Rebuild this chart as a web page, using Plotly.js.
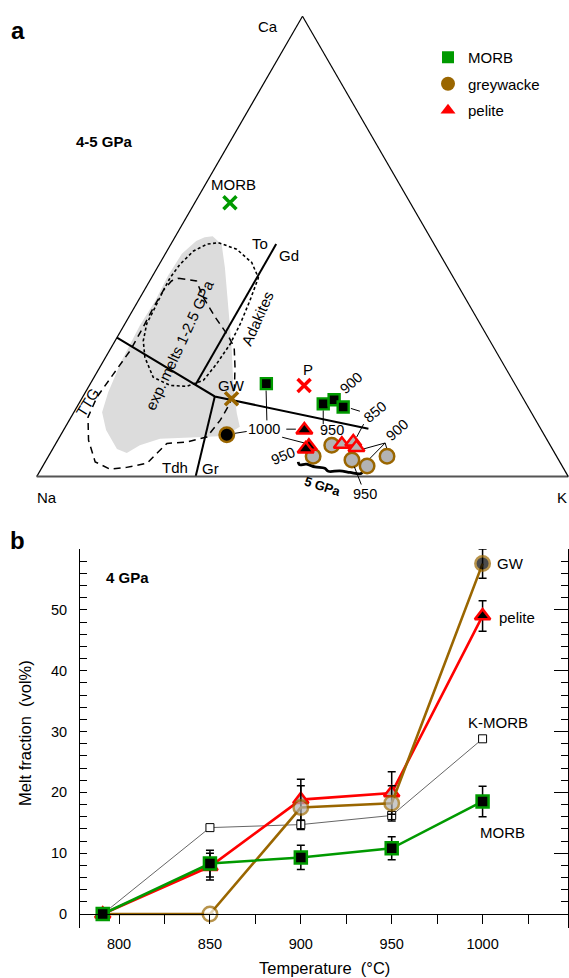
<!DOCTYPE html>
<html><head><meta charset="utf-8">
<script src="https://cdn.plot.ly/plotly-3.0.1.min.js"></script>
<style>html,body{margin:0;padding:0;background:#fff}#chart{width:569px;height:978px}</style>
</head><body><div id="chart"></div>
<script>
// ================= Panel a : ternary Ca (a) - Na (b) - K (c), values in % =================
// starting compositions (crosses)
const morbStartCa = [59.5], morbStartK = [6.6];
const pelStartCa = [19.8], pelStartK = [40.4];
const gwStartCa = [16.9], gwStartK = [28.2];
// experimental melts
const morbMeltCa = [20.2, 15.8, 16.7, 15.1];
const morbMeltK  = [33.1, 46.0, 47.6, 50.1];
const gwMeltCa = [9.1, 4.4, 6.8, 3.6, 2.3, 4.4];
const gwMeltK  = [31.2, 49.8, 52.1, 57.5, 61.0, 63.7];
const gwMeltFill = ['#000000', '#b3b3b3', '#b3b3b3', '#b3b3b3', '#b3b3b3', '#b3b3b3'];
const pelMeltCa = [10.1, 6.6, 6.0, 7.0, 7.5, 6.3];
const pelMeltK  = [45.3, 47.9, 47.6, 53.9, 55.8, 57.0];
const pelMeltFill = ['#000000', '#000000', '#000000', '#b3b3b3', '#b3b3b3', '#b3b3b3'];
// classification field boundaries
const ttgLineCa = [30.2, 17.4, 10.4], ttgLineK = [0, 24.8, 57.2];
const toGdCa = [50.5, 20.0], toGdK = [19.8, 19.9];
const tdhGrCa = [17.4, 0], tdhGrK = [24.8, 29.9];
// shaded field of experimental melts 1-2.5 GPa
const greyCa = [52.2, 50.4, 45.4, 34.6, 27.4, 19.4, 13.7, 10.8, 8.8, 8.5, 8.2, 6.8, 5.1, 6.0, 10.1, 14.0, 18.3, 25.2, 32.8, 38.2, 43.6, 48.4, 51.2, 52.0];
const greyK  = [7.0, 9.6, 12.7, 18.9, 23.0, 27.3, 30.8, 32.8, 31.0, 24.6, 19.1, 16.0, 14.4, 12.1, 8.0, 5.3, 4.3, 3.4, 3.0, 3.2, 2.9, 3.1, 4.4, 5.6];
// dotted field
const dotCa = [50.8, 49.4, 46.5, 43.2, 38.2, 33.2, 28.8, 24.5, 20.9, 19.6, 19.8, 21.6, 25.9, 29.5, 33.2, 36.7, 40.4, 43.2, 46.1, 49.0, 50.5, 50.8];
const dotK  = [8.8, 12.9, 17.2, 20.1, 21.0, 21.7, 22.0, 21.6, 20.9, 18.4, 15.2, 11.1, 7.4, 5.3, 4.1, 3.9, 3.6, 3.5, 3.9, 5.0, 6.8, 8.8];
// dashed TTG field
const ttgCa = [43.1, 42.5, 38.9, 34.6, 30.6, 28.1, 23.8, 19.4, 15.8, 12.2, 8.6, 7.5, 7.2, 5.4, 2.9, 2.0, 1.6, 3.2, 7.9, 12.9, 17.3, 22.3, 27.4, 32.4, 36.7, 40.4, 42.5, 43.1];
const ttgK  = [5.1, 8.8, 11.9, 16.3, 20.7, 23.1, 25.4, 27.5, 28.4, 28.4, 27.7, 24.5, 20.9, 20.2, 19.3, 15.9, 13.0, 9.4, 5.8, 3.2, 2.7, 3.3, 3.9, 3.8, 3.6, 3.6, 4.1, 5.1];
// 5 GPa trend
const gpa5Ca = [3.2, 2.6, 2.7, 2.1, 1.8, 1.15, 1.25, 0.9, 0.6, 0.9];
const gpa5K  = [47.6, 48.1, 49.4, 51.3, 53.3, 54.3, 56.4, 58.5, 60.5, 60.8];
// leader lines (null = break)
const leadCa = [18.7, 12.2, null, 9.4, 9.8, null, 10.3, 10.3, null, 8.55, 7.25, null, 14.4, 11.4, null, 14.8, 14.2, null, 11.4, 8.6, null, 7.3, 5.9, null, 7.3, 3.9, null, 7.3, 5.7];
const leadK  = [33.8, 37.2, null, 32.6, 34.6, null, 41.8, 43.6, null, 41.9, 46.9, null, 46.7, 48.2, null, 51.7, 53.7, null, 55.8, 55.9, null, 61.9, 58.2, null, 61.9, 60.7, null, 61.9, 63.1];

// ================= Panel b : melt fraction vs temperature (4 GPa) =================
const temps = [791, 850, 900, 950, 1000];
const morbMelt = [0, 8.3, 9.3, 10.8, 18.5];
const morbErr  = [0, 2.2, 2.0, 1.9, 2.5];
const kmorbMelt = [0, 14.2, 14.7, 16.2, 28.8];
const pelMelt = [0, 7.8, 18.8, 19.9, 49.0];
const pelErr  = [0, 2.2, 3.35, 3.5, 2.5];
const pelFill = ['#ff0000', '#b3b3b3', '#b3b3b3', '#b3b3b3', '#000000'];
const gwMelt = [0, 0, 17.5, 18.2, 57.6];
const gwErr  = [0, 0, 3.6, 2.9, 2.4];
const gwFill = ['#ffffff', '#ffffff', '#b3b3b3', '#b3b3b3', '#000000'];
const gwSize = [0, 14.5, 14.5, 14.5, 14.5];
const xTicks = [800, 850, 900, 950, 1000];
const yTicks = [0, 10, 20, 30, 40, 50];
const yMinor = [2, 4, 6, 8, 12, 14, 16, 18, 22, 24, 26, 28, 32, 34, 36, 38, 42, 44, 46, 48, 52, 54, 56, 58, 60];

const W = 569, H = 978;
const FONT = 'Liberation Sans, Arial, Helvetica, sans-serif';
const GREEN = '#009a00', BROWN = '#9a6600', RED = '#ff0000';

function tern(ca, k, extra) {
  return Object.assign({type: 'scatterternary', subplot: 'ternary', a: ca, c: k,
    showlegend: false, hoverinfo: 'skip'}, extra);
}

const data = [
  tern(greyCa, greyK, {mode: 'lines', fill: 'toself', fillcolor: '#dcdcdc', line: {width: 0, color: 'rgba(0,0,0,0)'}}),
  tern(ttgCa, ttgK, {mode: 'lines', line: {color: '#000', width: 1.5, dash: '7px,5px'}}),
  tern(dotCa, dotK, {mode: 'lines', line: {color: '#000', width: 1.6, dash: '3px,2.5px'}}),
  tern(ttgLineCa, ttgLineK, {mode: 'lines', line: {color: '#000', width: 2}}),
  tern(toGdCa, toGdK, {mode: 'lines', line: {color: '#000', width: 2}}),
  tern(tdhGrCa, tdhGrK, {mode: 'lines', line: {color: '#000', width: 2}}),
  tern(leadCa, leadK, {mode: 'lines', line: {color: '#000', width: 1}}),
  tern(gpa5Ca, gpa5K, {mode: 'lines', line: {color: '#000', width: 2.8, shape: 'spline'}}),
  tern(morbStartCa, morbStartK, {mode: 'markers', marker: {symbol: 'x-thin', size: 13, color: GREEN, line: {color: GREEN, width: 3.5}}}),
  tern(pelStartCa, pelStartK, {mode: 'markers', marker: {symbol: 'x-thin', size: 13, color: RED, line: {color: RED, width: 3.5}}}),
  tern(gwStartCa, gwStartK, {mode: 'markers', marker: {symbol: 'x-thin', size: 13, color: BROWN, line: {color: BROWN, width: 3.5}}}),
  tern(gwMeltCa, gwMeltK, {mode: 'markers', marker: {symbol: 'circle', size: 14.5, color: gwMeltFill, line: {color: BROWN, width: 2.5}}}),
  tern(morbMeltCa, morbMeltK, {mode: 'markers', marker: {symbol: 'square', size: 11, color: '#000', line: {color: GREEN, width: 2.4}}}),
  tern(pelMeltCa, pelMeltK, {mode: 'markers', marker: {symbol: 'triangle-up', size: 14, color: pelMeltFill, line: {color: RED, width: 2.5}}}),

  // legend entries
  {type: 'scatter', x: [null], y: [null], mode: 'markers', name: 'MORB', legendgroup: 'g1',
    marker: {symbol: 'square', size: 12, color: GREEN}},
  {type: 'scatter', x: [null], y: [null], mode: 'markers', name: 'greywacke', legendgroup: 'g2',
    marker: {symbol: 'circle', size: 14, color: BROWN}},
  {type: 'scatter', x: [null], y: [null], mode: 'markers', name: 'pelite', legendgroup: 'g3',
    marker: {symbol: 'triangle-up', size: 13, color: RED}},

  // panel b
  {type: 'scatter', x: temps, y: kmorbMelt, mode: 'lines+markers', showlegend: false, hoverinfo: 'skip',
    line: {color: '#666', width: 1},
    marker: {symbol: 'square', size: 8, color: '#fff', line: {color: '#000', width: 1}}},
  {type: 'scatter', x: temps, y: pelMelt, mode: 'lines+markers', showlegend: false, hoverinfo: 'skip',
    line: {color: RED, width: 2.6},
    error_y: {type: 'data', array: pelErr, color: '#000', thickness: 1.5, width: 4},
    marker: {symbol: 'triangle-up', size: 13.5, color: pelFill, line: {color: RED, width: 2.5}}},
  {type: 'scatter', x: temps, y: gwMelt, mode: 'lines+markers', showlegend: false, hoverinfo: 'skip',
    line: {color: BROWN, width: 2.6},
    error_y: {type: 'data', array: gwErr, color: '#000', thickness: 1.5, width: 4},
    marker: {symbol: 'circle', size: gwSize, color: gwFill, line: {color: BROWN, width: 2.5}}},
  {type: 'scatter', x: temps, y: morbMelt, mode: 'lines+markers', showlegend: false, hoverinfo: 'skip',
    line: {color: GREEN, width: 2.6},
    error_y: {type: 'data', array: morbErr, color: '#000', thickness: 1.5, width: 4},
    marker: {symbol: 'square', size: 12, color: '#000', line: {color: GREEN, width: 2.5}}},
  {type: 'scatter', x: [null], y: [null], yaxis: 'y2', showlegend: false, hoverinfo: 'skip'}
];

function lab(text, px, py, size, angle, extra) {
  return Object.assign({xref: 'paper', yref: 'paper', x: px / W, y: 1 - py / H,
    xanchor: 'center', yanchor: 'middle', text: text, showarrow: false,
    textangle: angle || 0, font: {family: FONT, size: size || 15, color: '#000'}}, extra || {});
}

const annotations = [
  lab('<b>a</b>', 18, 31, 24),
  lab('Ca', 268, 27, 15),
  lab('Na', 47, 498, 15),
  lab('K', 562, 498, 15),
  lab('<b>4-5 GPa</b>', 104, 141, 15),
  lab('MORB', 233, 185, 15),
  lab('P', 308, 369, 15),
  lab('GW', 231, 385, 15),
  lab('To', 260, 243, 15),
  lab('Gd', 289, 255, 15),
  lab('Tdh', 175, 467, 15),
  lab('Gr', 210, 468, 15),
  lab('Adakites', 257, 318, 15, -66),
  lab('exp. melts 1-2.5 GPa', 180, 345, 15, -65),
  lab('TTG', 87, 402, 15, -58),
  lab('1000', 264, 429, 14.5),
  lab('950', 283, 456, 14.5, -22),
  lab('950', 332, 430, 14.5),
  lab('900', 351, 383, 14.5, -42),
  lab('850', 375, 412, 14.5, -40),
  lab('900', 397, 430, 14.5, -42),
  lab('<b>5 GPa</b>', 323, 486, 13, 18),
  lab('950', 354.3, 466.7, 14.5, 0, {showarrow: true, arrowhead: 0, arrowwidth: 1, arrowcolor: '#000',
    ax: 10.7, ay: 27.3, standoff: 0, startstandoff: 0}),
  lab('<b>b</b>', 17, 540, 24),
  lab('<b>4 GPa</b>', 128, 577, 15),
  lab('GW', 510, 563, 15),
  lab('pelite', 517, 617, 15),
  lab('K-MORB', 498, 722, 15),
  lab('MORB', 503, 832, 15),
  lab('Temperature \u00a0(°C)', 324, 968, 16.5),
  lab('Melt fraction \u00a0(vol%)', 25, 733, 16.5, -90)
];

const ternAxis = (col, lw) => ({showgrid: false, showticklabels: false, ticks: '', showline: true,
  linecolor: col, linewidth: lw, title: {text: ''}, min: 0});

const layout = {
  width: W, height: H, autosize: false,
  margin: {l: 0, r: 0, t: 0, b: 0, pad: 0},
  paper_bgcolor: '#fff', plot_bgcolor: 'rgba(0,0,0,0)',
  font: {family: FONT, size: 15, color: '#000'},
  showlegend: true,
  legend: {x: 428 / W, y: 1 - 41 / H, xanchor: 'left', yanchor: 'top', bgcolor: 'rgba(0,0,0,0)',
    font: {family: FONT, size: 15, color: '#000'}, tracegroupgap: 4, traceorder: 'grouped'},
  ternary: {
    domain: {x: [36.7 / W, 568.3 / W], y: [(H - 482.8) / H, (H - 10) / H]},
    sum: 100, bgcolor: 'rgba(0,0,0,0)',
    aaxis: ternAxis('#000', 1.2),
    baxis: ternAxis('#555', 2),
    caxis: ternAxis('#000', 1.2)
  },
  xaxis: {domain: [80 / W, 568 / W], range: [778.5, 1047], anchor: 'free', position: (H - 914) / H,
    tickvals: xTicks, ticks: 'outside', ticklen: 9, tickwidth: 1, tickcolor: '#000',
    minor: {dtick: 25, ticks: 'outside', ticklen: 9, tickwidth: 1, tickcolor: '#000'},
    showline: true, linecolor: '#000', linewidth: 1, showgrid: false, zeroline: false,
    tickfont: {family: FONT, size: 14.5}, ticklabelstandoff: 8},
  yaxis: {domain: [(H - 928) / H, (H - 549) / H], range: [-2.3, 60], anchor: 'x',
    tickvals: yTicks, ticks: 'inside', ticklen: 7, tickwidth: 1, tickcolor: '#000',
    minor: {tickvals: yMinor, ticks: 'inside', ticklen: 7, tickwidth: 1, tickcolor: '#000'},
    showline: true, mirror: 'ticks', linecolor: '#000', linewidth: 1, showgrid: false, zeroline: false,
    tickfont: {family: FONT, size: 14.5}, ticklabelstandoff: 9},
  yaxis2: {overlaying: 'y', side: 'right', anchor: 'x', range: [-2.3, 60], tickvals: yTicks,
    ticks: 'inside', ticklen: 14, tickwidth: 1, tickcolor: '#000', showticklabels: false,
    showline: false, showgrid: false, zeroline: false},
  annotations: annotations
};

Plotly.newPlot('chart', data, layout, {displayModeBar: false, staticPlot: true});
</script>
</body></html>
